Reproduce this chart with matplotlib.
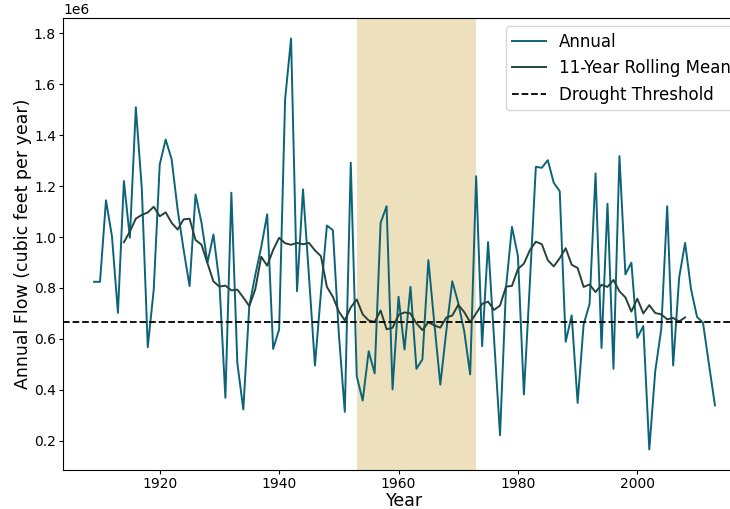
import matplotlib
matplotlib.use("Agg")
import matplotlib.pyplot as plt
import numpy as np
import pandas as pd

years = list(range(1909, 2014))
annual_flow = [
    0.824, 0.824, 1.144, 1.003, 0.702, 1.220, 0.997, 1.510, 1.190, 0.567,  # 1909-1918
    0.794, 1.285, 1.383, 1.305, 1.108, 0.950, 0.807, 1.167, 1.056, 0.899,  # 1919-1928
    1.010, 0.820, 0.368, 1.174, 0.505, 0.322, 0.728, 0.850, 0.960, 1.089,  # 1929-1938
    0.560, 0.637, 1.541, 1.780, 0.787, 1.187, 0.846, 0.495, 0.780, 1.045,  # 1939-1948
    1.027, 0.620, 0.313, 1.292, 0.453, 0.357, 0.551, 0.464, 1.056, 1.121,  # 1949-1958
    0.401, 0.765, 0.558, 0.804, 0.482, 0.519, 0.909, 0.660, 0.420, 0.630,  # 1959-1968
    0.826, 0.741, 0.630, 0.460, 1.239, 0.571, 0.980, 0.600, 0.221, 0.800,  # 1969-1978
    1.040, 0.925, 0.381, 0.820, 1.276, 1.272, 1.302, 1.213, 1.180, 0.588,  # 1979-1988
    0.692, 0.348, 0.656, 0.737, 1.250, 0.564, 1.131, 0.482, 1.318, 0.853,  # 1989-1998
    0.899, 0.604, 0.650, 0.165, 0.473, 0.637, 1.121, 0.495, 0.840, 0.977,  # 1999-2008
    0.794, 0.686, 0.663, 0.499, 0.338,                                     # 2009-2013
]
drought_threshold = 0.664
drought_start, drought_end = 1953, 1973

series = pd.Series(np.array(annual_flow) * 1e6, index=years)
rolling = series.rolling(11, center=True).mean()

fig = plt.figure(figsize=(7.30, 5.09), dpi=100)
ax = fig.add_axes([63/730, 1 - 470/509, (746 - 63)/730, (470 - 18)/509])

ax.axvspan(drought_start, drought_end, color="#ede0bd", lw=0)
ax.plot(series.index, series.values, color="#0b6478", lw=1.4, label="Annual")
ax.plot(rolling.index, rolling.values, color="#24443a", lw=1.4, label="11-Year Rolling Mean")
ax.axhline(drought_threshold * 1e6, color="black", ls="--", lw=1.3, label="Drought Threshold")

ax.set_xlabel("Year", fontsize=12.5, labelpad=1.0)
ax.set_ylabel("Annual Flow (cubic feet per year)", fontsize=12.5, labelpad=1.5)
ax.tick_params(labelsize=10, length=2.6, pad=2.4)
ax.legend(loc="upper right", fontsize=12)

fig.savefig("out.png", dpi=100)
